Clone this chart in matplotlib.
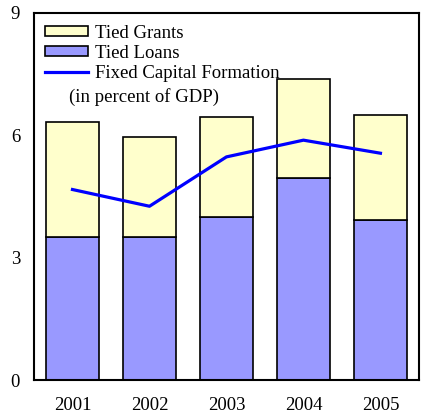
import matplotlib.pyplot as plt
import numpy as np

# Data
years = ["2001", "2002", "2003", "2004", "2005"]
tied_loans = [3.51, 3.51, 4.00, 4.96, 3.92]
tied_grants = [2.81, 2.45, 2.45, 2.41, 2.58]
fixed_capital = [4.67, 4.26, 5.47, 5.88, 5.56]

plt.rcParams["font.family"] = ["Liberation Serif", "DejaVu Serif"]

fig = plt.figure(figsize=(4.33, 4.16), dpi=100)
ax = fig.add_axes([0.0785, 0.0865, 0.889, 0.8825])

x = np.arange(len(years))
width = 0.68

b_loans = ax.bar(x, tied_loans, width, color="#9999FF", edgecolor="black", linewidth=1.2)
b_grants = ax.bar(x, tied_grants, width, bottom=tied_loans, color="#FFFFCC", edgecolor="black", linewidth=1.2)
line, = ax.plot(x, fixed_capital, color="#0000FF", linewidth=2.3)

ax.set_xlim(-0.5, len(years) - 0.5)
ax.set_ylim(0, 9)
ax.set_yticks([0, 3, 6, 9])
ax.set_xticks(x)
ax.set_xticklabels(years)
ax.tick_params(axis="both", length=0, labelsize=13.5)
ax.tick_params(axis="y", pad=10)
ax.tick_params(axis="x", pad=12.5)
for s in ax.spines.values():
    s.set_linewidth(1.5)

ax.legend([b_grants, b_loans, line],
          ["Tied Grants", "Tied Loans", "Fixed Capital Formation"],
          loc="upper left", frameon=False, fontsize=13.5,
          handlelength=2.3, handleheight=0.45, handletextpad=0.4,
          labelspacing=0.17, borderaxespad=0.0, borderpad=0.0,
          bbox_to_anchor=(0.028, 0.968))
ax.text(0.09, 0.77, "(in percent of GDP)", transform=ax.transAxes, fontsize=13.5, va="center")

fig.savefig("out.png", dpi=100)
